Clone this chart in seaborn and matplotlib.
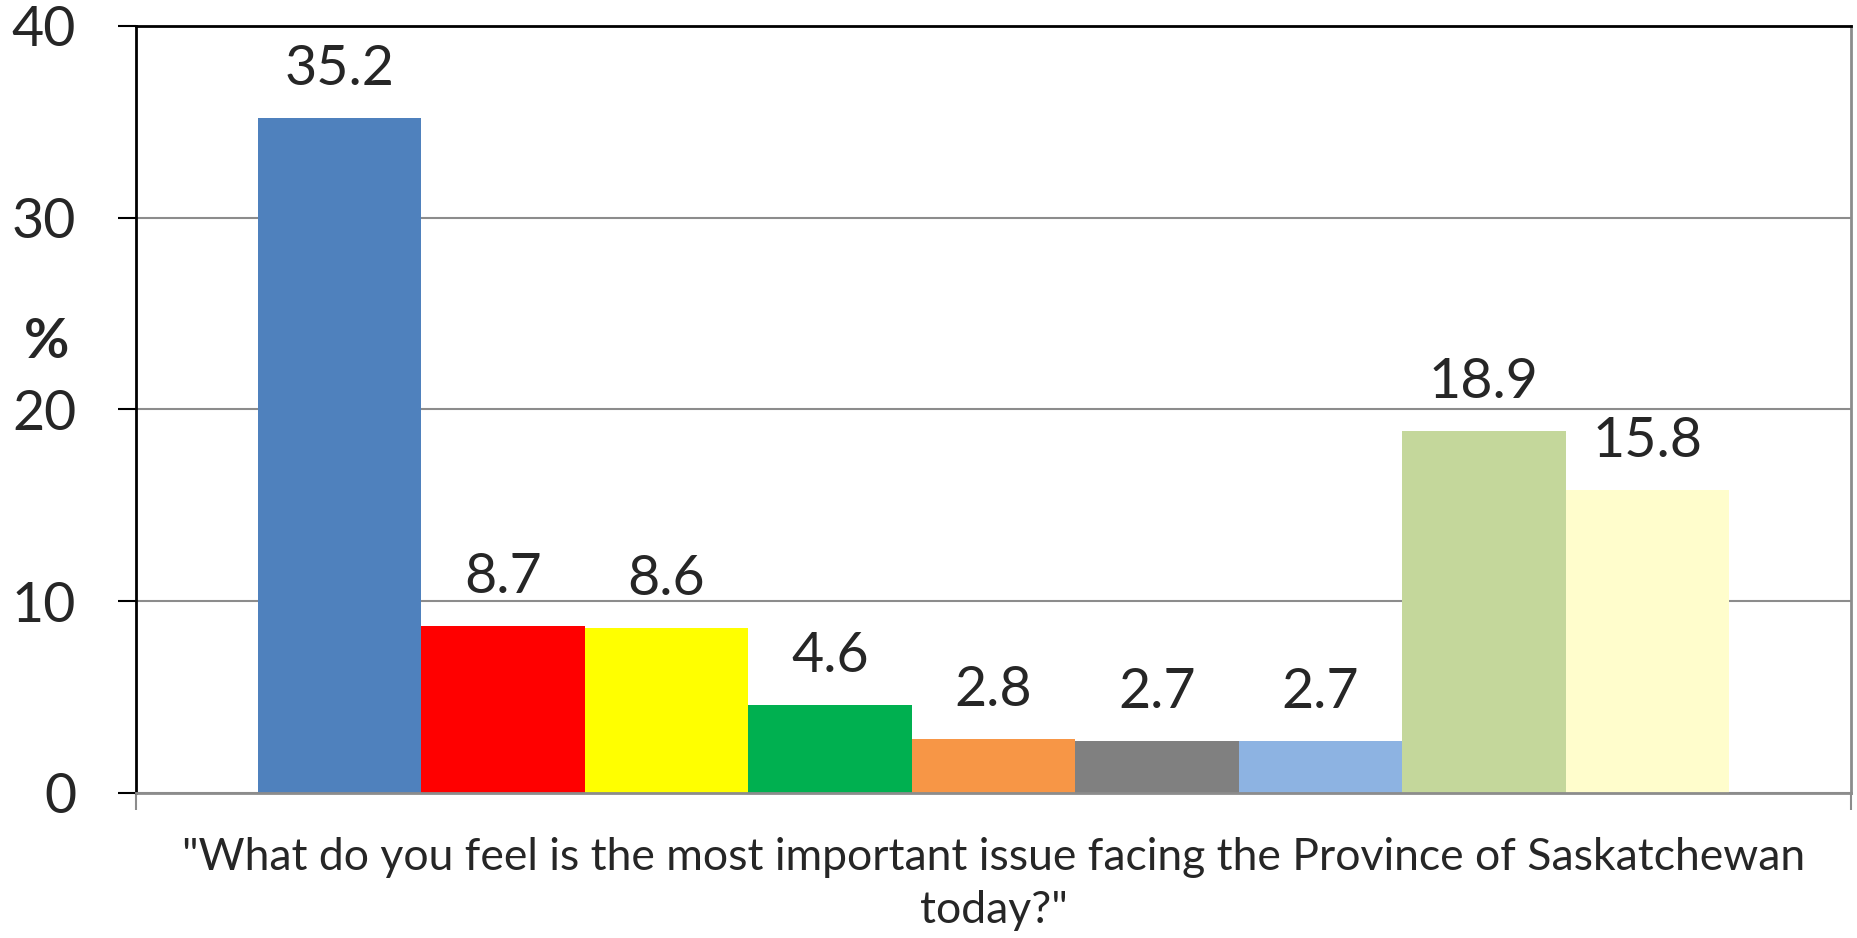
import matplotlib
matplotlib.use('Agg')
import matplotlib.pyplot as plt
import seaborn as sns
import pandas as pd

# Data
issues = ['Issue A', 'Issue B', 'Issue C', 'Issue D', 'Issue E',
          'Issue F', 'Issue G', 'Issue H', 'Issue I']
percent = [35.2, 8.7, 8.6, 4.6, 2.8, 2.7, 2.7, 18.9, 15.8]
bar_colors = ['#4F81BD', '#FF0000', '#FFFF00', '#00B050', '#F79646',
              '#808080', '#8DB3E2', '#C4D79B', '#FFFDCC']
y_ticks = [0, 10, 20, 30, 40]
question = '"What do you feel is the most important issue facing the Province of Saskatchewan\ntoday?"'

df = pd.DataFrame({'issue': issues, 'percent': percent})

sns.set_style('white')
plt.rcParams['font.family'] = ['Lato', 'DejaVu Sans']

fig = plt.figure(figsize=(18.57, 9.38), dpi=100)
ax = fig.add_axes([0.0732, 0.1546, 0.9236, 0.8177])

sns.barplot(data=df, x='issue', y='percent', hue='issue', palette=bar_colors,
            width=1.0, legend=False, ax=ax, saturation=1, linewidth=0)

# Value labels
for i, v in enumerate(percent):
    ax.text(i, v + 1.2, f'{v:.1f}', ha='center', va='bottom', fontsize=40)

ax.set_xlim(-1.246, 9.246)
ax.set_ylim(0, 40)
ax.set_yticks(y_ticks)
ax.set_yticklabels([str(t) for t in y_ticks], fontsize=40)
ax.yaxis.grid(True, color='#8c8c8c', linewidth=1.5)
ax.set_axisbelow(True)
ax.tick_params(axis='y', direction='out', length=13, width=1.5, color='black', pad=30, left=True)

ax.set_xticks([-1.246, 9.246])
ax.set_xticklabels(['', ''])
ax.tick_params(axis='x', direction='out', length=12, width=1.5, color='#8c8c8c', bottom=True)

for side in ['left', 'top']:
    ax.spines[side].set_color('black')
    ax.spines[side].set_linewidth(2)
for side in ['right', 'bottom']:
    ax.spines[side].set_color('#8c8c8c')
    ax.spines[side].set_linewidth(2)
    ax.spines[side].set_visible(True)

ax.set_xlabel(question, fontsize=32, linespacing=1.38, labelpad=16)
ax.set_ylabel('%', fontsize=40, fontweight='bold', rotation=0, labelpad=0)
ax.yaxis.set_label_coords(-0.052, 0.555)

fig.savefig('out.png', dpi=100)
